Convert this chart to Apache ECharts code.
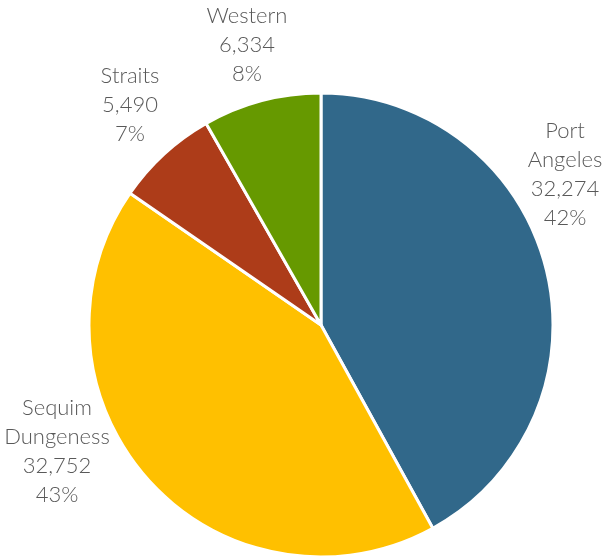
<!DOCTYPE html>
<html><head><meta charset="utf-8">
<script src="https://cdn.jsdelivr.net/npm/echarts@6/dist/echarts.min.js"></script>
<style>html,body{margin:0;padding:0;background:#fff}#c{width:604px;height:557px}</style>
</head><body><div id="c"></div>
<script>
const categories = ['Port Angeles', 'Sequim Dungeness', 'Straits', 'Western'];
const labelNames = ['Port\nAngeles', 'Sequim\nDungeness', 'Straits', 'Western'];
const values = [32274, 32752, 5490, 6334];
const colors = ['#31688A', '#FFC000', '#AD3C19', '#669900'];
// label anchor (centre) positions, layout only
const labelCenters = [[565, 174], [57, 451], [130, 105], [247, 45]];

const total = values.reduce((a, b) => a + b, 0);
const chart = echarts.init(document.getElementById('c'));
chart.setOption({
  animation: false,
  series: [{
    type: 'pie',
    center: [321, 325],
    radius: [0, 232],
    startAngle: 90,
    clockwise: true,
    avoidLabelOverlap: false,
    data: categories.map((c, i) => ({
      name: c, value: values[i],
      itemStyle: { color: colors[i] }
    })),
    itemStyle: { borderColor: '#fff', borderWidth: 3 },
    label: {
      show: true,
      position: 'outside',
      overflow: 'none',
      formatter: p => labelNames[p.dataIndex] + '\n' + p.value.toLocaleString('en-US') + '\n' + Math.round(p.value / total * 100) + '%',
      color: '#595959',
      fontFamily: 'Lato',
      fontWeight: 300,
      fontSize: 22,
      lineHeight: 29,
      align: 'center'
    },
    labelLine: { show: false },
    labelLayout: p => ({
      x: labelCenters[p.dataIndex][0],
      y: labelCenters[p.dataIndex][1],
      align: 'center',
      verticalAlign: 'middle',
      hideOverlap: false
    }),
    emphasis: { disabled: true }
  }]
});
</script></body></html>
